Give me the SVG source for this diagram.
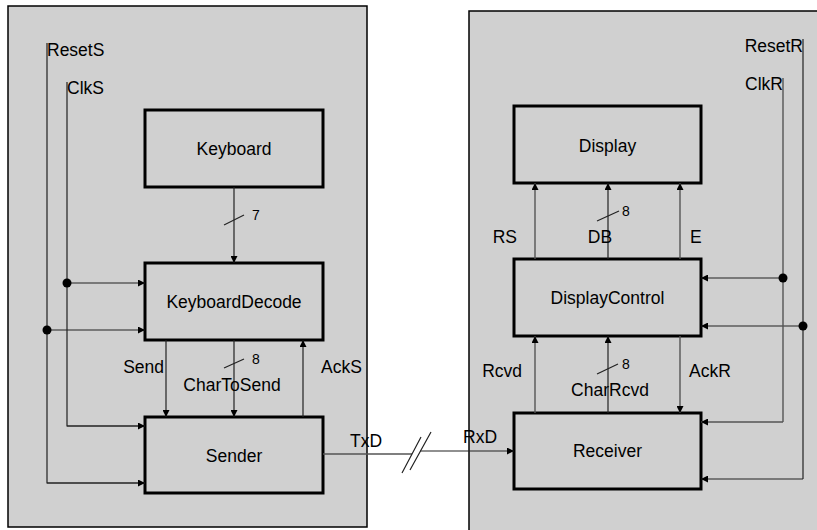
<svg xmlns="http://www.w3.org/2000/svg" width="817" height="530" viewBox="0 0 817 530">
<style>
  .panel { fill: #d0d0d0; stroke: #000; stroke-width: 1.5; }
  .box { fill: #d0d0d0; stroke: #000; stroke-width: 3; }
  .t { font-family: "Liberation Sans", Arial, sans-serif; font-size: 17.5px; fill: #000; }
  .n { font-family: "Liberation Sans", Arial, sans-serif; font-size: 14px; fill: #000; }
  .w { fill: none; stroke: #222; stroke-width: 1.2; }
  .g { fill: none; stroke: #555; stroke-width: 1.4; }
  .a { marker-end: url(#ah); }
</style>
<defs>
  <marker id="ah" viewBox="0 0 10 10" refX="10" refY="5" markerWidth="7" markerHeight="7" markerUnits="userSpaceOnUse" orient="auto">
    <path d="M0,0 L10,5 L0,10 z" fill="#000"/>
  </marker>
</defs>
<rect width="817" height="530" fill="#fff"/>
<rect class="panel" x="8" y="6" width="359" height="521"/>
<rect class="panel" x="469" y="11" width="360" height="530"/>

<g id="Keyboard"><rect class="box" x="145" y="110" width="178" height="77"/><text class="t" x="234" y="155" text-anchor="middle">Keyboard</text></g>
<g id="KeyboardDecode"><rect class="box" x="145" y="263" width="178" height="77"/><text class="t" x="234" y="308" text-anchor="middle">KeyboardDecode</text></g>
<g id="Sender"><rect class="box" x="145" y="417" width="178" height="76"/><text class="t" x="234" y="462" text-anchor="middle">Sender</text></g>
<g id="Display"><rect class="box" x="514" y="106" width="187" height="77"/><text class="t" x="607.5" y="152" text-anchor="middle">Display</text></g>
<g id="DisplayControl"><rect class="box" x="514" y="259" width="187" height="77"/><text class="t" x="607.5" y="304" text-anchor="middle">DisplayControl</text></g>
<g id="Receiver"><rect class="box" x="514" y="413" width="187" height="76"/><text class="t" x="607.5" y="457" text-anchor="middle">Receiver</text></g>

<g id="connectors">
  <!-- left panel -->
  <path class="w a" d="M234,187 V263"/>
  <path class="w" d="M224,225 L244,215"/>
  <path class="w" d="M47,43 V483 H145"/>
  <path class="w a" d="M47,330 H145"/>
  <path class="w" d="M67,82 V426 H145"/>
  <path class="w a" d="M67,426 H145"/>
  <path class="w a" d="M47,483 H145"/>
  <path class="w a" d="M67,283 H145"/>
  <circle cx="67" cy="283" r="4.5"/>
  <circle cx="47" cy="330" r="4.5"/>
  <path class="w a" d="M166,340 V417"/>
  <path class="w a" d="M234,340 V417"/>
  <path class="w" d="M224,368 L244,359"/>
  <path class="w a" d="M303,417 V340"/>
  <!-- TxD / RxD -->
  <path class="g" d="M323,454 H412"/>
  <path class="w a" d="M420,451 H514"/>
  <path class="w" d="M402,473 L421,437 M410,470 L431,432"/>
  <!-- right panel -->
  <path class="g a" d="M535,259 V183"/>
  <path class="w a" d="M608,259 V183"/>
  <path class="w" d="M597,221 L619,211"/>
  <path class="g a" d="M680,259 V183"/>
  <path class="g a" d="M535,413 V336"/>
  <path class="w a" d="M608,413 V336"/>
  <path class="w" d="M597,374 L618,364"/>
  <path class="g a" d="M680,336 V413"/>
  <path class="w" d="M803,39 V479"/>
  <path class="w a" d="M803,479 H701"/>
  <path class="w a" d="M803,326 H701"/>
  <path class="g" d="M783,78 V422"/>
  <path class="g a" d="M783,422 H701"/>
  <path class="w a" d="M783,278 H701"/>
  <circle cx="783" cy="278" r="4.5"/>
  <circle cx="803" cy="326" r="4.5"/>
</g>

<g id="labels">
  <text class="t" x="47" y="56">ResetS</text>
  <text class="t" x="67" y="94">ClkS</text>
  <text class="n" x="252" y="220">7</text>
  <text class="t" x="164" y="373" text-anchor="end">Send</text>
  <text class="n" x="252" y="364">8</text>
  <text class="t" x="232" y="391" text-anchor="middle">CharToSend</text>
  <text class="t" x="321" y="373">AckS</text>
  <text class="t" x="350" y="447">TxD</text>
  <text class="t" x="463" y="443">RxD</text>
  <text class="t" x="803" y="52" text-anchor="end">ResetR</text>
  <text class="t" x="783" y="90" text-anchor="end">ClkR</text>
  <text class="n" x="622" y="216">8</text>
  <text class="t" x="517" y="243" text-anchor="end">RS</text>
  <text class="t" x="600" y="243" text-anchor="middle">DB</text>
  <text class="t" x="690" y="243">E</text>
  <text class="t" x="522" y="377" text-anchor="end">Rcvd</text>
  <text class="n" x="622" y="369">8</text>
  <text class="t" x="610" y="396" text-anchor="middle">CharRcvd</text>
  <text class="t" x="689" y="377">AckR</text>
</g>
</svg>
